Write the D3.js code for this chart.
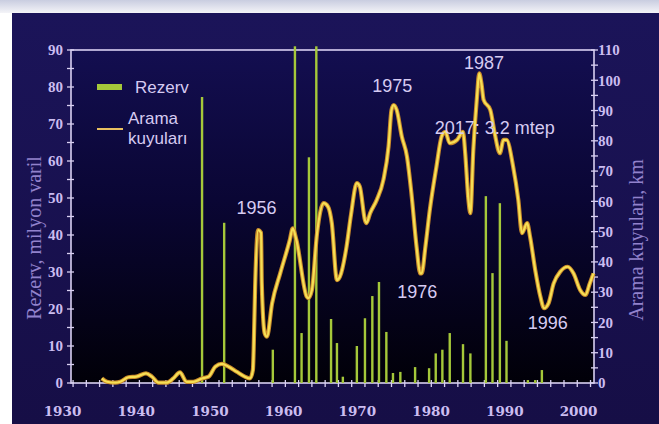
<!DOCTYPE html>
<html><head><meta charset="utf-8">
<script src="https://cdn.jsdelivr.net/npm/d3@7/dist/d3.min.js"></script>
<style>html,body{margin:0;padding:0;background:#fff;overflow:hidden}</style>
</head><body>
<svg id="c" width="659" height="424"></svg>
<script>
// ---- data ----
const barYears = [1949.0,1952.0,1958.6,1961.6,1962.5,1963.5,1964.5,1966.5,1967.3,1968.1,1970.0,1971.1,1972.1,1973.0,1974.0,1974.9,1975.9,1977.9,1979.8,1980.7,1981.6,1982.6,1984.4,1985.4,1987.5,1988.4,1989.4,1990.3,1993.2,1994.2,1995.1];
const barValues = [77.3,43.3,9,91,13.5,61,91,17.3,10.8,1.7,10,17.5,23.5,27.3,13.8,2.7,3,4.3,4,8,9,13.5,10.5,8,50.5,29.7,48.6,11.4,0.8,0.8,3.5];
const lineYears = [1935.4,1936.1,1937.2,1937.9,1939.0,1940.1,1941.4,1942.2,1943.1,1944.2,1945.1,1946.0,1946.9,1947.8,1949.0,1949.9,1950.8,1951.7,1952.6,1953.7,1954.8,1955.5,1955.9,1956.0,1956.2,1956.6,1957.0,1957.1,1957.5,1957.8,1958.5,1959.6,1960.9,1961.3,1961.8,1963.2,1963.4,1963.9,1964.6,1965.5,1966.1,1966.6,1967.3,1967.7,1968.6,1969.2,1970.0,1970.4,1971.1,1971.3,1971.8,1972.7,1973.6,1974.3,1974.7,1975.0,1975.4,1976.1,1976.8,1977.4,1978.1,1978.6,1978.8,1979.3,1979.9,1980.8,1981.5,1982.0,1982.6,1983.6,1984.4,1984.7,1985.1,1985.4,1985.8,1986.3,1986.6,1986.9,1987.2,1988.1,1988.7,1989.4,1989.9,1990.3,1991.2,1991.9,1992.4,1993.1,1993.5,1994.2,1994.9,1995.4,1996.0,1996.7,1997.6,1998.6,1999.4,2000.3,2001.0,2001.6,2002.1];
const lineValues = [1.5,0.4,0.1,0.4,1.9,2.1,3.2,2.1,0.1,0.1,1.5,3.5,0.4,0.4,1.5,2.1,5.4,6.3,5.4,3.7,2.1,1.5,4.3,10.9,31.8,50.5,49.6,33.0,16.4,15.3,26.3,36.2,47.2,51.1,47.2,28.5,28.0,30.7,49.5,59.4,58.2,52.8,34.0,35.1,45.0,55.5,66.0,64.9,53.8,52.8,56.1,60.5,67.1,78.1,90.2,91.8,90.2,81.4,74.8,62.7,45.0,36.2,36.2,45.0,57.2,71.5,81.4,83.0,79.2,80.3,83.0,75.9,61.5,56.1,77.0,94.6,102.3,99.0,93.5,90.2,82.5,75.9,80.3,80.3,71.5,60.5,49.5,52.8,48.3,37.3,28.5,24.7,26.3,32.9,36.8,38.4,36.2,30.7,29.1,32.9,36.2];
const xTickYears = [1930,1940,1950,1960,1970,1980,1990,2000];
const leftTicks = [0,10,20,30,40,50,60,70,80,90];
const rightTicks = [0,10,20,30,40,50,60,70,80,90,100,110];
const annotations = [
  {text:"1956", year:1956.4, value:55.8},
  {text:"1975", year:1974.8, value:96.0},
  {text:"1976", year:1978.2, value:28.2},
  {text:"1987", year:1987.25, value:103.6},
  {text:"2017: 3.2 mtep", year:1988.7, value:82.4},
  {text:"1996", year:1995.9, value:17.7}
];
const legendItems = ["Rezerv", ["Arama","kuyuları"]];

// ---- layout ----
const svg = d3.select("#c");
const L = 71, R = 594, T = 50, B = 383;
const x = d3.scaleLinear().domain([1930,2000]).range([62,578]);
const yL = d3.scaleLinear().domain([0,90]).range([B,T]);
const yR = d3.scaleLinear().domain([0,110]).range([B,T]);

const defs = svg.append("defs");
const g1 = defs.append("linearGradient").attr("id","bg").attr("x1",0).attr("y1",0).attr("x2",0).attr("y2",1);
g1.append("stop").attr("offset","0%").attr("stop-color","#1b1459");
g1.append("stop").attr("offset","100%").attr("stop-color","#160e46");
const g2 = defs.append("linearGradient").attr("id","pa").attr("x1",0).attr("y1",0).attr("x2",0).attr("y2",1);
g2.append("stop").attr("offset","0%").attr("stop-color","#130e50");
g2.append("stop").attr("offset","45%").attr("stop-color","#0a0634");
g2.append("stop").attr("offset","100%").attr("stop-color","#010008");
const g3 = defs.append("linearGradient").attr("id","topstrip").attr("x1",0).attr("y1",0).attr("x2",0).attr("y2",1);
g3.append("stop").attr("offset","0%").attr("stop-color","#c9cde0");
g3.append("stop").attr("offset","100%").attr("stop-color","#f4f4f8");

svg.append("rect").attr("x",0).attr("y",0).attr("width",659).attr("height",13).attr("fill","url(#topstrip)");
svg.append("rect").attr("x",12).attr("y",13).attr("width",647).attr("height",411).attr("fill","url(#bg)");
svg.append("rect").attr("x",L).attr("y",T).attr("width",R-L).attr("height",B-T).attr("fill","url(#pa)");

const axisCol = "#d9d0f2";
// frame
svg.append("rect").attr("x",L).attr("y",T).attr("width",R-L).attr("height",B-T)
  .attr("fill","none").attr("stroke",axisCol).attr("stroke-width",1.6);

// minor tick crosses
const minorL = d3.range(0,90.1,5), minorR = d3.range(0,110.1,5);
svg.append("g").selectAll("line").data(minorL).join("line")
  .attr("x1",L-4).attr("x2",L+3).attr("y1",d=>yL(d)).attr("y2",d=>yL(d))
  .attr("stroke",axisCol).attr("stroke-width",1.3);
svg.append("g").selectAll("line").data(minorR).join("line")
  .attr("x1",R-3).attr("x2",R+4).attr("y1",d=>yR(d)).attr("y2",d=>yR(d))
  .attr("stroke",axisCol).attr("stroke-width",1.3);
const bottomMinor = d3.range(1931.5, 2002.5, 1.8);
svg.append("g").selectAll("line").data(bottomMinor).join("line")
  .attr("x1",d=>x(d)).attr("x2",d=>x(d)).attr("y1",B-3).attr("y2",B+4)
  .attr("stroke",axisCol).attr("stroke-width",1.3);

// axes (labels)
const labCol = "#cbbdf0";
const axL = svg.append("g").attr("transform",`translate(${L},0)`)
  .call(d3.axisLeft(yL).tickValues(leftTicks).tickSize(0).tickPadding(8));
const axR = svg.append("g").attr("transform",`translate(${R},0)`)
  .call(d3.axisRight(yR).tickValues(rightTicks).tickSize(0).tickPadding(4));
const axB = svg.append("g").attr("transform",`translate(0,${B})`)
  .call(d3.axisBottom(x).tickValues(xTickYears).tickFormat(d3.format("d")).tickSize(0).tickPadding(23));
[axL,axR].forEach(a=>{
  a.select(".domain").remove();
  a.selectAll("text").attr("fill",labCol).attr("font-family","'Liberation Serif',serif")
    .attr("font-weight","bold").attr("font-size",15);
});
axB.select(".domain").remove();
axB.selectAll("text").attr("fill",labCol).attr("font-family","'DejaVu Serif',serif")
  .attr("font-weight","bold").attr("font-size",13.5);

// axis titles
svg.append("text").attr("transform",`translate(41,238) rotate(-90)`)
  .attr("text-anchor","middle").attr("fill","#9282cc")
  .attr("font-family","'Liberation Serif',serif").attr("font-size",20)
  .text("Rezerv, milyon varil");
svg.append("text").attr("transform",`translate(643,240) rotate(-90)`)
  .attr("text-anchor","middle").attr("fill","#9282cc")
  .attr("font-family","'Liberation Serif',serif").attr("font-size",20)
  .text("Arama kuyuları, km");

// bars
svg.append("g").selectAll("rect").data(barYears.map((yr,i)=>({yr,v:barValues[i]}))).join("rect")
  .attr("x",d=>x(d.yr)-1.2).attr("width",2.4)
  .attr("y",d=>yL(d.v)).attr("height",d=>B-yL(d.v))
  .attr("fill","#a5c83a");

// line
const pts = lineYears.map((yr,i)=>[yr,lineValues[i]]);
const line = d3.line().x(d=>x(d[0])).y(d=>yR(d[1])).curve(d3.curveMonotoneX);
svg.append("path").datum(pts).attr("d",line).attr("fill","none")
  .attr("stroke","#c98a2a").attr("stroke-width",4.2).attr("stroke-linejoin","round");
svg.append("path").datum(pts).attr("d",line).attr("fill","none")
  .attr("stroke","#f6df55").attr("stroke-width",2.2).attr("stroke-linejoin","round");

// annotations
svg.append("g").selectAll("text").data(annotations).join("text")
  .attr("x",d=>x(d.year)).attr("y",d=>yR(d.value))
  .attr("text-anchor","middle").attr("fill","#d6cbf2")
  .attr("font-family","'Liberation Sans',Arial,sans-serif").attr("font-size",18)
  .text(d=>d.text);

// legend
const lg = svg.append("g").attr("font-family","'Liberation Sans',Arial,sans-serif").attr("font-size",17).attr("fill","#d6cbf2");
lg.append("rect").attr("x",97).attr("y",84).attr("width",25).attr("height",6).attr("fill","#a5c83a");
lg.append("text").attr("x",135).attr("y",93).text(legendItems[0]);
lg.append("line").attr("x1",97).attr("x2",123).attr("y1",129).attr("y2",129).attr("stroke","#e8c060").attr("stroke-width",2);
lg.append("text").attr("x",128).attr("y",124).text(legendItems[1][0]);
lg.append("text").attr("x",128).attr("y",144).text(legendItems[1][1]);
</script>
</body></html>
